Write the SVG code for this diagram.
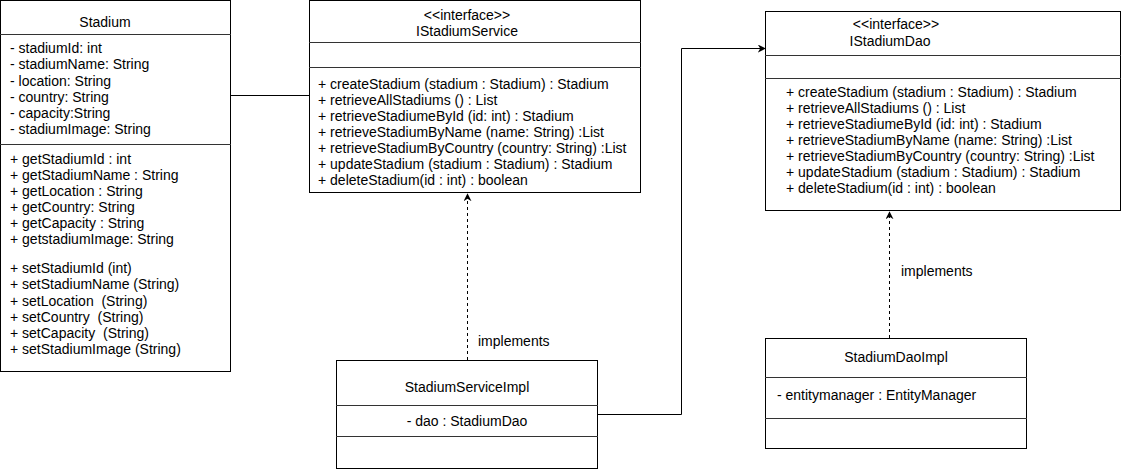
<svg xmlns="http://www.w3.org/2000/svg" width="1122" height="471" viewBox="0 0 1122 471">
<defs>
<style>
.box{fill:#fff;stroke:#000;stroke-width:1}
.div{stroke:#333;stroke-width:1}
text{font-family:"Liberation Sans",Arial,sans-serif;font-size:14px;fill:#000;white-space:pre}
.c{text-anchor:middle}
.edge{fill:none;stroke:#000;stroke-width:1}
.dash{stroke-dasharray:3 3}
</style>
<marker id="arr" viewBox="0 0 10 10" refX="9" refY="5" markerWidth="8" markerHeight="8" markerUnits="userSpaceOnUse" orient="auto">
<path d="M0,0 L10,5 L0,10 L3,5 Z" fill="#000"/>
</marker>
</defs>
<rect width="1122" height="471" fill="#fff"/>

<g id="connectors">
<line class="edge" x1="231" y1="95.5" x2="309" y2="95.5"/>
<polyline class="edge" points="598,414.5 681.5,414.5 681.5,48.5 765,48.5" marker-end="url(#arr)"/>
<line class="edge dash" x1="467.5" y1="360" x2="467.5" y2="194" marker-end="url(#arr)"/>
<line class="edge dash" x1="889.5" y1="338" x2="889.5" y2="212" marker-end="url(#arr)"/>
<text x="478" y="346">implements</text>
<text x="901" y="276">implements</text>
</g>

<g id="Stadium">
<rect class="box" x="0.5" y="0.5" width="230" height="371"/>
<line class="div" x1="0" y1="34.5" x2="231" y2="34.5"/>
<line class="div" x1="0" y1="144.5" x2="231" y2="144.5"/>
<text class="c" x="105" y="27">Stadium</text>
<text x="10" y="53">- stadiumId: int</text>
<text x="10" y="69">- stadiumName: String</text>
<text x="10" y="86">- location: String</text>
<text x="10" y="102">- country: String</text>
<text x="10" y="118">- capacity:String</text>
<text x="10" y="134">- stadiumImage: String</text>
<text x="10" y="164">+ getStadiumId : int</text>
<text x="10" y="180">+ getStadiumName : String</text>
<text x="10" y="196">+ getLocation : String</text>
<text x="10" y="212">+ getCountry: String</text>
<text x="10" y="228">+ getCapacity : String</text>
<text x="10" y="244">+ getstadiumImage: String</text>
<text x="10" y="273">+ setStadiumId (int)</text>
<text x="10" y="289">+ setStadiumName (String)</text>
<text x="10" y="306">+ setLocation  (String)</text>
<text x="10" y="322">+ setCountry  (String)</text>
<text x="10" y="338">+ setCapacity  (String)</text>
<text x="10" y="354">+ setStadiumImage (String)</text>
</g>

<g id="IStadiumService">
<rect class="box" x="309.5" y="0.5" width="331" height="192"/>
<line class="div" x1="309" y1="42.5" x2="641" y2="42.5"/>
<line class="div" x1="309" y1="67.5" x2="641" y2="67.5"/>
<text class="c" x="467" y="20">&lt;&lt;interface&gt;&gt;</text>
<text class="c" x="467" y="36">IStadiumService</text>
<text x="318" y="89">+ createStadium (stadium : Stadium) : Stadium</text>
<text x="318" y="105">+ retrieveAllStadiums () : List</text>
<text x="318" y="121">+ retrieveStadiumeById (id: int) : Stadium</text>
<text x="318" y="137">+ retrieveStadiumByName (name: String) :List</text>
<text x="318" y="153">+ retrieveStadiumByCountry (country: String) :List</text>
<text x="318" y="169">+ updateStadium (stadium : Stadium) : Stadium</text>
<text x="318" y="185">+ deleteStadium(id : int) : boolean</text>
</g>

<g id="IStadiumDao">
<rect class="box" x="765.5" y="11.5" width="355" height="199"/>
<line class="div" x1="765" y1="55.5" x2="1121" y2="55.5"/>
<line class="div" x1="765" y1="78.5" x2="1121" y2="78.5"/>
<text class="c" x="896" y="29">&lt;&lt;interface&gt;&gt;</text>
<text class="c" x="890" y="46">IStadiumDao</text>
<text x="786" y="97">+ createStadium (stadium : Stadium) : Stadium</text>
<text x="786" y="113">+ retrieveAllStadiums () : List</text>
<text x="786" y="129">+ retrieveStadiumeById (id: int) : Stadium</text>
<text x="786" y="145">+ retrieveStadiumByName (name: String) :List</text>
<text x="786" y="161">+ retrieveStadiumByCountry (country: String) :List</text>
<text x="786" y="177">+ updateStadium (stadium : Stadium) : Stadium</text>
<text x="786" y="193">+ deleteStadium(id : int) : boolean</text>
</g>

<g id="StadiumServiceImpl">
<rect class="box" x="336.5" y="360.5" width="261" height="108"/>
<line class="div" x1="336" y1="405.5" x2="598" y2="405.5"/>
<line class="div" x1="336" y1="436.5" x2="598" y2="436.5"/>
<text class="c" x="467" y="392">StadiumServiceImpl</text>
<text class="c" x="467" y="426">- dao : StadiumDao</text>
</g>

<g id="StadiumDaoImpl">
<rect class="box" x="765.5" y="338.5" width="261" height="110"/>
<line class="div" x1="765" y1="377.5" x2="1027" y2="377.5"/>
<line class="div" x1="765" y1="418.5" x2="1027" y2="418.5"/>
<text class="c" x="896" y="362">StadiumDaoImpl</text>
<text x="777" y="400">- entitymanager : EntityManager</text>
</g>
</svg>
